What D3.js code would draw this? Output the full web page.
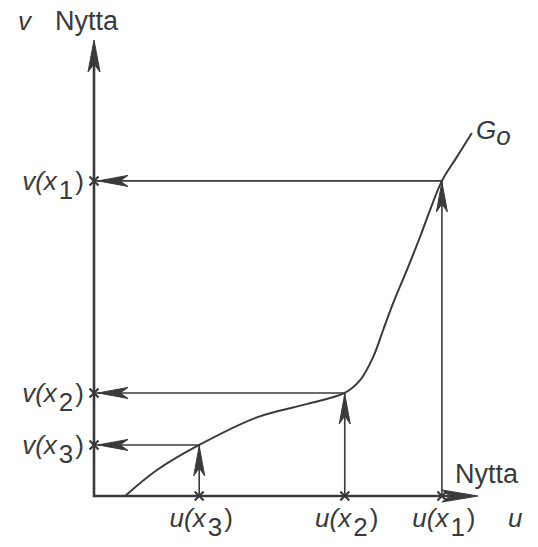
<!DOCTYPE html>
<html>
<head>
<meta charset="utf-8">
<script src="https://cdn.jsdelivr.net/npm/d3@7"></script>
<style>
  html, body { margin: 0; padding: 0; background: #fff; }
  svg { display: block; }
  text { font-family: "Liberation Sans", Arial, sans-serif; fill: #3a3a3a; }
</style>
</head>
<body>
<svg id="chart"></svg>
<script>
// ── Data (u = horizontal utility, v = vertical utility) ──
const curveU = [8.1, 16.4, 27.4, 42.6, 55.6, 65.3, 69.3, 72.7, 75.3, 77.9, 81.5, 84.9, 87.5, 90.6, 94.3, 98.4];
const curveV = [0, 5.7, 11.2, 17.3, 20.2, 22.6, 25.4, 30.5, 36.4, 42.3, 49.6, 56.8, 62.7, 69.1, 74.1, 79.6];

const pointNames = ['1', '2', '3'];
const pointU     = [90.6, 65.3, 27.4];
const pointV     = [69.1, 22.6, 11.2];

const axisMax  = 100;
const curveName = 'G';
const curveSub  = 'o';
const axisTitle = 'Nytta';

// ── Layout ───────────────────────────────────────────
const W = 538, H = 547;
const ink = '#3a3a3a';

const svg = d3.select('#chart').attr('width', W).attr('height', H);

const x = d3.scaleLinear().domain([0, axisMax]).range([94, 478]);
const y = d3.scaleLinear().domain([0, axisMax]).range([496, 40]);

// arrowhead with tip at (tx,ty), pointing in direction angle (deg)
function arrowHead(tx, ty, angle, len = 30, half = 5.5) {
  svg.append('path')
    .attr('d', `M0,0 L${-len},${-half} L${-len + 8},0 L${-len},${half} Z`)
    .attr('transform', `translate(${tx},${ty}) rotate(${angle})`)
    .attr('fill', ink)
    .attr('stroke', ink)
    .attr('stroke-width', 1)
    .attr('stroke-linejoin', 'round');
}

function cross(cx, cy, s = 4.5) {
  svg.append('path')
    .attr('d', `M${cx - s},${cy - s} L${cx + s},${cy + s} M${cx - s},${cy + s} L${cx + s},${cy - s}`)
    .attr('stroke', ink)
    .attr('stroke-width', 2.2);
}

// ── Guide lines ──────────────────────────────────────
pointU.forEach((u, i) => {
  const px = x(u), py = y(pointV[i]);
  svg.append('line')
    .attr('x1', px).attr('x2', x(0))
    .attr('y1', py).attr('y2', py)
    .attr('stroke', ink).attr('stroke-width', 1.6);
  svg.append('line')
    .attr('x1', px).attr('x2', px)
    .attr('y1', y(0)).attr('y2', py)
    .attr('stroke', ink).attr('stroke-width', 1.6);
  arrowHead(x(0) + 4, py, 180);
  arrowHead(px, py + 1, -90);
});

// ── Curve G_o ────────────────────────────────────────
const line = d3.line()
  .x(d => x(d[0]))
  .y(d => y(d[1]))
  .curve(d3.curveCatmullRom.alpha(0.5));

svg.append('path')
  .datum(curveU.map((u, i) => [u, curveV[i]]))
  .attr('d', line)
  .attr('fill', 'none')
  .attr('stroke', ink)
  .attr('stroke-width', 2);

// ── Axes ─────────────────────────────────────────────
svg.append('line')
  .attr('x1', x(0)).attr('x2', x(0))
  .attr('y1', y(0) + 1).attr('y2', y(axisMax) + 10)
  .attr('stroke', ink).attr('stroke-width', 2.6);
svg.append('line')
  .attr('x1', x(0) - 1).attr('x2', x(axisMax) - 10)
  .attr('y1', y(0)).attr('y2', y(0))
  .attr('stroke', ink).attr('stroke-width', 2.6);
arrowHead(x(0), y(axisMax), -90, 32, 6);
arrowHead(x(axisMax), y(0), 0, 36, 6);

pointU.forEach(u => cross(x(u), y(0)));
pointV.forEach(v => cross(x(0), y(v)));

// ── Labels ───────────────────────────────────────────
const fs = 26;

function pointLabel(letter, sub, px, py, anchor) {
  const t = svg.append('text')
    .attr('x', px).attr('y', py)
    .attr('font-size', fs)
    .attr('text-anchor', anchor);
  t.append('tspan').attr('font-style', 'italic').text(letter + '(x');
  t.append('tspan').attr('dx', 2).attr('dy', 9).text(sub);
  t.append('tspan').attr('dx', 2).attr('dy', -9).text(')');
}

pointV.forEach((v, i) => pointLabel('v', pointNames[i], 84, y(v) + 9, 'end'));
pointU.forEach((u, i) => pointLabel('u', pointNames[i], x(u) + 2, 527, 'middle'));

svg.append('text')
  .attr('x', 18).attr('y', 30)
  .attr('font-size', fs).attr('font-style', 'italic')
  .text('v');
svg.append('text')
  .attr('x', 55).attr('y', 30)
  .attr('font-size', 27)
  .text(axisTitle);

svg.append('text')
  .attr('x', 455).attr('y', 483)
  .attr('font-size', 27)
  .text(axisTitle);
svg.append('text')
  .attr('x', 508).attr('y', 527)
  .attr('font-size', fs).attr('font-style', 'italic')
  .text('u');

const g = svg.append('text')
  .attr('x', 476).attr('y', 139)
  .attr('font-size', fs).attr('font-style', 'italic');
g.append('tspan').text(curveName);
g.append('tspan').attr('dy', 6).text(curveSub);
</script>
</body>
</html>
